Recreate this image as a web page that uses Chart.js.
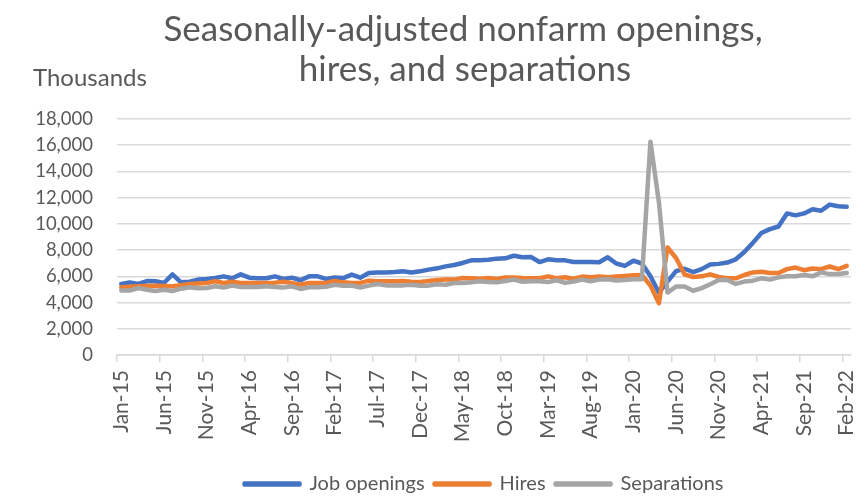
<!DOCTYPE html>
<html>
<head>
<meta charset="utf-8">
<title>JOLTS</title>
<script src="https://cdn.jsdelivr.net/npm/chart.js@4.4.0/dist/chart.umd.min.js"></script>
<style>
  html, body { margin: 0; padding: 0; background: #fff; }
  canvas { display: block; }
</style>
</head>
<body>
<canvas id="grafico" width="866" height="497"></canvas>
<script>
// meses de jan/2015 a fev/2022
const meses = ["Jan", "Feb", "Mar", "Apr", "May", "Jun", "Jul", "Aug", "Sep", "Oct", "Nov", "Dec"];
const anos = ["15", "16", "17", "18", "19", "20", "21", "22"];

// milhares, com ajuste sazonal
const vagas = [
  5420, 5540, 5420, 5640, 5620, 5490, 6150, 5540, 5590, 5750, 5800, 5870,
  6000, 5850, 6150, 5900, 5850, 5850, 6000, 5800, 5900, 5700, 6000, 6000,
  5800, 5920, 5870, 6130, 5900, 6250, 6300, 6300, 6330, 6380, 6300, 6380,
  6510, 6610, 6760, 6860, 7020, 7220, 7220, 7270, 7350, 7370, 7570, 7450,
  7470, 7090, 7300, 7220, 7220, 7090, 7090, 7090, 7080, 7450, 6980, 6800,
  7190, 6980, 6000, 4750, 5600, 6400, 6580, 6330, 6550, 6900, 6950, 7050,
  7300, 7850, 8550, 9300, 9600, 9800, 10800, 10650, 10800, 11120, 11000, 11470,
  11350, 11300
];
const contratacoes = [
  5160, 5200, 5240, 5260, 5290, 5270, 5240, 5330, 5420, 5460, 5490, 5620,
  5490, 5590, 5490, 5490, 5490, 5500, 5520, 5590, 5490, 5360, 5490, 5490,
  5490, 5640, 5540, 5490, 5500, 5670, 5620, 5620, 5620, 5640, 5590, 5570,
  5640, 5720, 5750, 5750, 5870, 5850, 5820, 5870, 5800, 5920, 5920, 5870,
  5850, 5850, 6000, 5850, 5930, 5820, 5980, 5930, 5980, 5930, 5980, 6030,
  6080, 6100, 5300, 3950, 8200, 7400, 6150, 5950, 6000, 6150, 5950, 5850,
  5850, 6100, 6300, 6350, 6250, 6250, 6550, 6670, 6470, 6600, 6550, 6750,
  6550, 6800
];
const desligamentos = [
  4910, 4910, 5110, 4980, 4880, 4980, 4880, 5060, 5160, 5090, 5110, 5240,
  5140, 5290, 5190, 5190, 5190, 5240, 5190, 5140, 5240, 5040, 5160, 5160,
  5210, 5360, 5290, 5300, 5150, 5290, 5420, 5310, 5310, 5310, 5360, 5290,
  5290, 5390, 5360, 5490, 5490, 5540, 5620, 5570, 5540, 5640, 5750, 5590,
  5620, 5620, 5560, 5700, 5500, 5600, 5750, 5620, 5750, 5770, 5680, 5720,
  5770, 5770, 16270, 11600, 4760, 5220, 5220, 4900, 5100, 5400, 5720, 5720,
  5420, 5600, 5670, 5850, 5750, 5920, 6000, 6000, 6100, 6000, 6300, 6170,
  6170, 6250
];

const rotulos = [];
anos.forEach((ano) => meses.forEach((mes) => rotulos.push(mes + "-" + ano)));
rotulos.length = vagas.length;

const titulo = ["Seasonally-adjusted nonfarm openings,", "hires, and separations"];
const unidade = "Thousands";

const cinzaTexto = "#595959";
const cinzaGrade = "#d9d9d9";
Chart.defaults.font.family = "Lato";
Chart.defaults.color = cinzaTexto;

// titulo em duas linhas e "Thousands" acima do eixo vertical
const textosFixos = {
  id: "textosFixos",
  afterDraw(chart) {
    const c = chart.ctx;
    c.save();
    c.fillStyle = cinzaTexto;
    c.textBaseline = "middle";
    c.textAlign = "center";
    c.font = "35px Lato";
    c.fillText(titulo[0], 463, 30);
    c.fillText(titulo[1], 465, 70);
    c.textAlign = "left";
    c.font = "24px Lato";
    c.fillText(unidade, 33, 78);
    c.restore();
  }
};

function serie(nome, dados, cor, ordem) {
  return {
    label: nome,
    data: dados,
    borderColor: cor,
    backgroundColor: cor,
    borderWidth: 4.5,
    borderJoinStyle: "round",
    borderCapStyle: "round",
    pointRadius: 0,
    tension: 0,
    order: ordem
  };
}

const ctx = document.getElementById("grafico");
const myChart = new Chart(ctx, {
  type: "line",
  data: {
    labels: rotulos,
    datasets: [
      serie("Job openings", vagas, "#4472C4", 2),
      serie("Hires", contratacoes, "#ED7D31", 1),
      serie("Separations", desligamentos, "#A5A5A5", 0)
    ]
  },
  options: {
    responsive: false,
    animation: false,
    layout: { padding: { left: 0, right: 15, top: 119, bottom: -7 } },
    plugins: {
      title: { display: false },
      legend: {
        position: "bottom",
        fullSize: false,
        labels: {
          boxWidth: 55,
          boxHeight: 1,
          padding: 10,
          font: { size: 20 },
          color: cinzaTexto,
          sort: (a, b) => a.datasetIndex - b.datasetIndex
        }
      },
      tooltip: { enabled: false }
    },
    scales: {
      x: {
        offset: true,
        grid: {
          offset: true,
          drawOnChartArea: false,
          tickLength: 7,
          lineWidth: 1.5,
          color: (c) => (c.index % 5 === 0 ? cinzaGrade : "transparent")
        },
        border: { display: true, color: cinzaGrade, width: 1.5 },
        ticks: {
          autoSkip: false,
          minRotation: 90,
          maxRotation: 90,
          padding: 8,
          font: { size: 21 },
          callback: function (valor, i) {
            return i % 5 === 0 ? this.getLabelForValue(valor) : "";
          }
        },
        afterFit: (escala) => {
          escala.height = 109;
          escala.paddingLeft = 0;
          escala.paddingRight = 0;
        }
      },
      y: {
        min: 0,
        max: 18000,
        grid: { color: cinzaGrade, lineWidth: 1.5, drawTicks: false },
        border: { display: false },
        ticks: {
          stepSize: 2000,
          autoSkip: false,
          padding: 24,
          font: { size: 18.5 },
          callback: (v) => v.toLocaleString("en-US")
        },
        afterFit: (escala) => { escala.width = 117; }
      }
    }
  },
  plugins: [textosFixos]
});
</script>
</body>
</html>
